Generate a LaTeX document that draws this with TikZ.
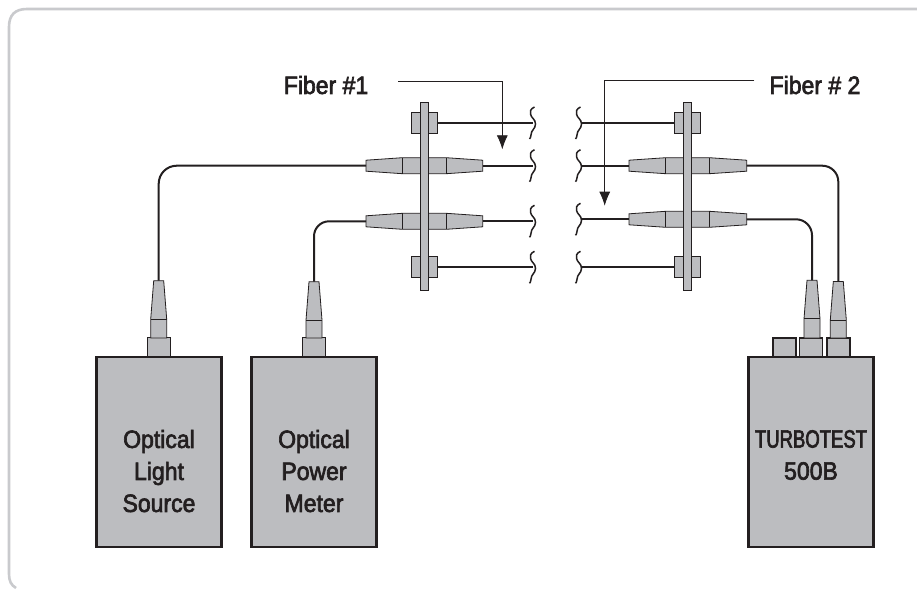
\documentclass[tikz,border=0pt]{standalone}
\usepackage{fontspec}
\setmainfont[FakeBold=2.6,FakeStretch=0.92]{Liberation Sans}
\newfontfamily\turbofont[FakeBold=2.6,FakeStretch=0.74]{Liberation Sans}
\usepackage{xcolor}
\usetikzlibrary{arrows.meta,positioning,calc}

\definecolor{partgray}{HTML}{BCBDC0}
\definecolor{inkblack}{HTML}{231F20}
\definecolor{framegray}{HTML}{C9CACD}

\tikzset{
  unitbox/.style={draw=inkblack,fill=partgray,line width=2.2pt,minimum width=125pt,minimum height=190pt,inner sep=0pt},
  portbox/.style={draw=inkblack,fill=partgray,line width=1.5pt,minimum width=23pt,minimum height=19pt,inner sep=0pt},
  part/.style={draw=inkblack,fill=partgray,line width=0.8pt},
  fiber/.style={draw=inkblack,line width=2pt},
  leader/.style={draw=inkblack,line width=0.7pt,-{Latex[length=14pt,width=11pt]}},
  caption/.style={font=\fontsize{25}{32}\selectfont,align=center,inner sep=0pt,text=inkblack},
  cutmark/.pic={\draw[inkblack,line width=1.5pt] (1.5,-16) .. controls (-3,-14) and (-3,-11) .. (-2.5,-9) .. controls (-2,-5) and (2.5,-4) .. (2.5,1) .. controls (2.5,6) and (-2,7) .. (-2,12) .. controls (-2,14) and (-3,15.5) .. (-3.5,16);}
}

\begin{document}
\begin{tikzpicture}[x=1pt,y=-1pt,>=Latex]
  \useasboundingbox (0,0) rectangle (917,589);
  % outer frame, open on two sides
  \draw[framegray,line width=2.6pt] (16,588) .. controls (11,585) and (9,581) .. (9,574) -- (9,27) .. controls (9,15) and (15,9) .. (27,9) -- (917,9);

  % instruments
  \node[unitbox] (source) at (159,451.7) {};
  \node[unitbox] (meter) at (314,451.7) {};
  \node[unitbox] (turbo) at (811,451.7) {};
  \node[portbox] (sourceport) at (159,347.2) {};
  \node[portbox] (meterport) at (314,347.2) {};
  \node[portbox] (turboport) at (784.5,347.7) {};
  \node[portbox] (turboporta) at (811,347.7) {};
  \node[portbox] (turboportb) at (838.3,347.7) {};
  \node[caption] (sourcetext) at (159,471) {Optical\\Light\\Source};
  \node[caption] (metertext) at (314,471) {Optical\\Power\\Meter};
  \node[caption] (turbotext) at (811,455) {{\turbofont TURBOTEST}\\500B};

  % boots above the ports
  \foreach \bx/\by/\bname in {158.7/280.7/sourceboot,314/281.7/meterboot,812/280.3/turboboota,838.3/281.5/turbobootb}{
    \draw[part] (\bx-5,\by) -- (\bx+5,\by) -- (\bx+8,\by+38.5) -- (\bx+8,338) -- (\bx-8,338) -- (\bx-8,\by+38.5) -- cycle;
    \draw[part] (\bx-8,\by+38.5) -- (\bx+8,\by+38.5);
    \coordinate (\bname) at (\bx,\by);
  }

  % left patch panel
  \foreach \ry in {123,267.3}{
    \draw[part] (411.3,\ry-10.5) rectangle (437.7,\ry+10.5);
    \draw[fiber] (437.7,\ry) -- (533,\ry);
    \pic at (533,\ry) {cutmark};
  }
  \foreach \ry/\rname in {165.7/lefta,221.3/leftb}{
    \draw[part] (366,\ry-5.5) -- (402.3,\ry-8) -- (446.3,\ry-8) -- (482.7,\ry-5.5) -- (482.7,\ry+5.5) -- (446.3,\ry+8) -- (402.3,\ry+8) -- (366,\ry+5.5) -- cycle;
    \draw[part] (402.3,\ry-8) -- (402.3,\ry+8);
    \draw[part] (446.3,\ry-8) -- (446.3,\ry+8);
    \draw[fiber] (482.7,\ry) -- (533,\ry);
    \pic at (533,\ry) {cutmark};
    \coordinate (\rname) at (366,\ry);
  }
  \draw[part] (420.7,102.7) rectangle (428.7,290.7);

  % right patch panel
  \foreach \ry in {123,267.3}{
    \draw[part] (674.3,\ry-10.5) rectangle (700.7,\ry+10.5);
    \draw[fiber] (581,\ry) -- (674.3,\ry);
    \pic at (579,\ry) {cutmark};
  }
  \foreach \ry/\rname in {165.7/righta,219.3/rightb}{
    \draw[part] (629,\ry-5.5) -- (665.7,\ry-8) -- (709.3,\ry-8) -- (746.7,\ry-5.5) -- (746.7,\ry+5.5) -- (709.3,\ry+8) -- (665.7,\ry+8) -- (629,\ry+5.5) -- cycle;
    \draw[part] (665.7,\ry-8) -- (665.7,\ry+8);
    \draw[part] (709.3,\ry-8) -- (709.3,\ry+8);
    \draw[fiber] (581,\ry) -- (629,\ry);
    \pic at (579,\ry) {cutmark};
    \coordinate (\rname) at (746.7,\ry);
  }
  \draw[part] (683.7,102.7) rectangle (691.7,290.7);

  % patch cords
  \draw[fiber,rounded corners=18pt] (sourceboot) |- (lefta);
  \draw[fiber,rounded corners=15pt] (meterboot) |- (leftb);
  \draw[fiber,rounded corners=16pt] (righta) -| (turbobootb);
  \draw[fiber,rounded corners=16pt] (rightb) -| (turboboota);

  % labels and leaders
  \node[caption] (fiberone) at (326,85) {Fiber \#1};
  \node[caption] (fibertwo) at (815,85) {Fiber \# 2};
  \coordinate (fiberonetip) at (502.3,149.3);
  \coordinate (fibertwotip) at (604.7,205.7);
  \draw[leader] (398.3,81.7) -| (fiberonetip);
  \draw[leader] (754.3,80.3) -| (fibertwotip);
\end{tikzpicture}
\end{document}
